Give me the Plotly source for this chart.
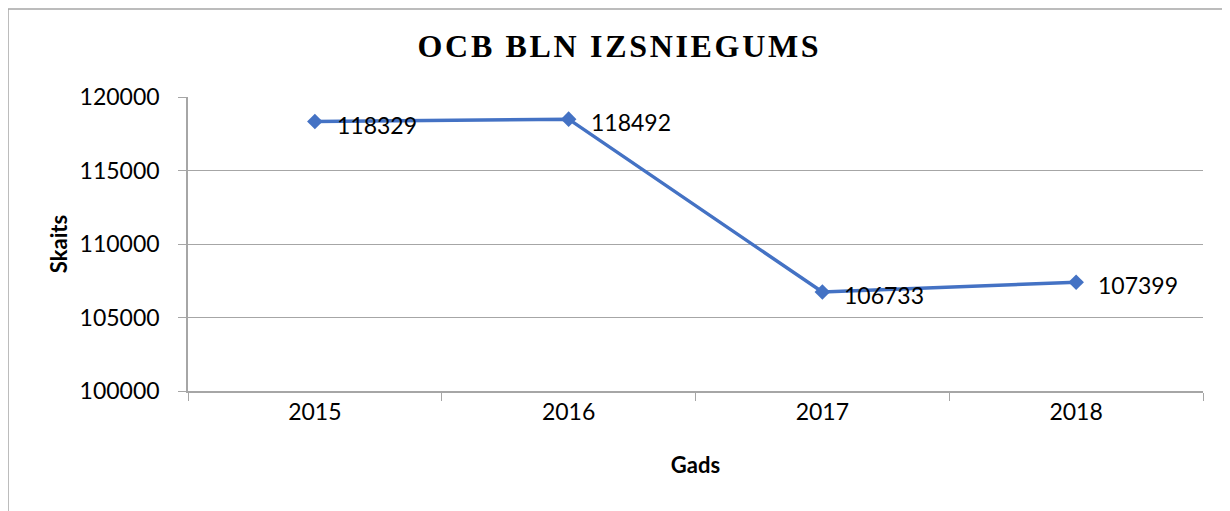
import plotly.graph_objects as go

years = ["2015", "2016", "2017", "2018"]
values = [118329, 118492, 106733, 107399]
y_ticks = [100000, 105000, 110000, 115000, 120000]

BLUE = "#4472C4"
GRID = "#A6A6A6"
FONT = "Lato, 'Open Sans', sans-serif"
HAIR = "\u200a"

title_text = HAIR.join("OCB BLN IZSNIEGUMS")

fig = go.Figure(go.Scatter(
    x=years,
    y=values,
    mode="lines+markers",
    line=dict(color=BLUE, width=3.5),
    marker=dict(symbol="diamond", size=12, color=BLUE),
    cliponaxis=False,
))

# value labels sit to the right of each point (category index as x)
for i, v in enumerate(values):
    fig.add_annotation(
        x=i, y=v, text=str(v), showarrow=False,
        xanchor="left", yanchor="middle", xshift=20, yshift=-3,
        font=dict(size=23, color="#000000", family=FONT),
    )

fig.update_layout(
    width=1230,
    height=511,
    margin=dict(l=180, r=35, t=89, b=128),
    paper_bgcolor="white",
    plot_bgcolor="white",
    showlegend=False,
    font=dict(family=FONT, size=23, color="#000000"),
    title=dict(
        text="<b>" + title_text + "</b>",
        x=0.496, xanchor="center", y=0.926, yanchor="middle",
        font=dict(family="'Liberation Serif', 'Times New Roman', serif", size=32, color="#000000"),
    ),
    xaxis=dict(
        type="category",
        range=[-0.5, 3.5],
        showgrid=False,
        showline=True, linecolor=GRID, linewidth=1.5,
        ticks="outside", tickson="boundaries", ticklen=8, tickcolor=GRID,
        tickfont=dict(size=23),
        title=dict(text="<b>Gads</b>", font=dict(size=22), standoff=33),
    ),
    yaxis=dict(
        range=[100000, 120000],
        tickvals=y_ticks,
        tickformat="d",
        showgrid=True, gridcolor=GRID, gridwidth=1,
        showline=True, linecolor=GRID, linewidth=1.5,
        ticks="outside", ticklen=8, tickcolor=GRID,
        ticklabelstandoff=14,
        tickfont=dict(size=23),
        zeroline=False,
        title=dict(text="<b>Skaits</b>", font=dict(size=22), standoff=6),
    ),
    shapes=[dict(
        type="rect", xref="paper", yref="paper",
        x0=-180 / 1015, x1=1.2, y0=-1.0, y1=1 + 88 / 294,
        line=dict(color="#A6A6A6", width=1.5), fillcolor="rgba(0,0,0,0)", layer="below",
    )],
)

fig.write_html("out.html")
